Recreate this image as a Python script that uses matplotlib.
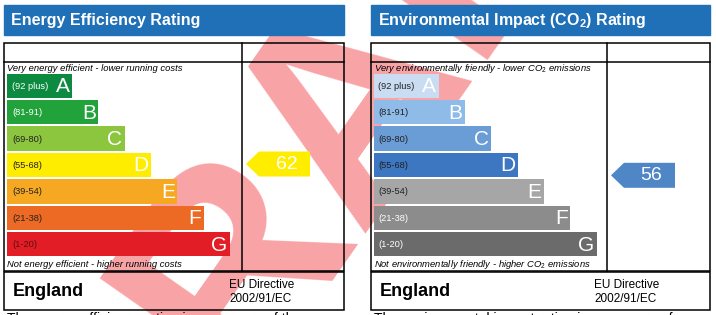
import matplotlib
matplotlib.use('Agg')
import matplotlib.pyplot as plt
from matplotlib.patches import Rectangle, Polygon

plt.rcParams['font.family'] = ['Liberation Sans', 'DejaVu Sans']
plt.rcParams['mathtext.fontset'] = 'custom'
plt.rcParams['mathtext.rm'] = 'Liberation Sans'
plt.rcParams['mathtext.it'] = 'Liberation Sans:italic'
plt.rcParams['mathtext.bf'] = 'Liberation Sans:bold'

# Dados
bands = ['A', 'B', 'C', 'D', 'E', 'F', 'G']
ranges = ['(92 plus)', '(81-91)', '(69-80)', '(55-68)', '(39-54)', '(21-38)', '(1-20)']
range_lo = [92, 81, 69, 55, 39, 21, 1]
range_hi = [100, 91, 80, 68, 54, 38, 20]

ee_score = 62
ei_score = 56

ee_colors = ['#0c8a3f', '#21a23a', '#8cc63f', '#ffed00', '#f7a823', '#ec6a23', '#e31d25']
ei_colors = ['#c9dcf1', '#8fbbe8', '#6a9dd6', '#3d77c2', '#a6a6a6', '#8c8c8c', '#6b6b6b']
ee_label_colors = ['white', 'white', '#222', '#222', '#222', '#222', '#5a1010']
ei_label_colors = ['#222', '#222', '#222', '#222', '#222', 'white', 'white']

ee_title = 'Energy Efficiency Rating'
ei_title = r'Environmental Impact (CO$_\mathbf{2}$) Rating'
ee_top = 'Very energy efficient - lower running costs'
ee_bottom = 'Not energy efficient - higher running costs'
ei_top = r'Very environmentally friendly - lower CO$_2$ emissions'
ei_bottom = r'Not environmentally friendly - higher CO$_2$ emissions'
ee_foot = 'The energy efficiency rating is a measure of the'
ei_foot = 'The environmental impact rating is a measure of a'

W, H = 716, 315
fig = plt.figure(figsize=(W / 100, H / 100), dpi=100)
ax = fig.add_axes([0, 0, 1, 1])
ax.set_xlim(0, W)
ax.set_ylim(H, 0)
ax.axis('off')

BLUE = '#1f70b7'
row_top = 73.5
row_pitch = 26.4
bar_h = 24.5


def panel(x0, x1, xdiv, title, colors, lab_cols, score, arrow_col, top_txt, bot_txt, foot):
    # cabeçalho azul
    ax.add_patch(Rectangle((x0, 5), x1 - x0, 30, color=BLUE, zorder=2))
    ax.text(x0 + 7, 21, title, color='white', fontsize=11.5, fontweight='bold',
            va='center', ha='left', zorder=3)
    # caixas
    lw = 1.1
    ax.add_patch(Rectangle((x0, 43), x1 - x0, 227.5, fill=False, lw=lw, ec='black', zorder=5))
    ax.plot([x0, x1], [62, 62], color='black', lw=lw, zorder=5)
    ax.plot([xdiv, xdiv], [43, 270.5], color='black', lw=lw, zorder=5)
    ax.add_patch(Rectangle((x0, 272), x1 - x0, 38, fill=False, lw=lw, ec='black', zorder=5))
    # barras
    lengths = [65 + 26.35 * i for i in range(len(bands))]
    ys = [row_top + row_pitch * i + bar_h / 2 for i in range(len(bands))]
    ax.barh(ys, lengths, left=x0 + 3, height=bar_h, color=colors, zorder=2)
    for i, b in enumerate(bands):
        ax.text(x0 + 8, ys[i] + 0.5, ranges[i], color=lab_cols[i], fontsize=6.7,
                va='center', ha='left', zorder=4)
        ax.text(x0 + 3 + lengths[i] - 2.5, ys[i] + 1, b, color='white', fontsize=15,
                va='center', ha='right', zorder=4)
    ax.text(x0 + 3, 68.5, top_txt, fontsize=6.75, style='italic', va='center', zorder=4)
    ax.text(x0 + 3, 264.5, bot_txt, fontsize=6.75, style='italic', va='center', zorder=4)
    # seta da pontuação
    k = next(i for i in range(len(bands)) if range_lo[i] <= score <= range_hi[i])
    frac = (range_hi[k] - score) / (range_hi[k] - range_lo[k])
    yc = row_top + row_pitch * k + frac * bar_h
    tip = xdiv + 4
    xe = tip + 64
    pts = [(tip, yc), (tip + 13, yc - 12.5), (xe, yc - 12.5), (xe, yc + 12.5), (tip + 13, yc + 12.5)]
    ax.add_patch(Polygon(pts, closed=True, color=arrow_col, lw=0, zorder=2))
    ax.text((tip + 13 + xe) / 2 + 2, yc + 0.5, str(score), color='white', fontsize=14,
            va='center', ha='center', zorder=4)
    # rodapé
    ax.text(x0 + 9, 292, 'England', fontsize=13, fontweight='bold', va='center', zorder=4)
    ax.text(xdiv - 13, 285, 'EU Directive', fontsize=8.5, va='center', zorder=4)
    ax.text(xdiv - 13, 298.5, '2002/91/EC', fontsize=8.5, va='center', zorder=4)
    ax.text(x0 + 3, 312, foot, fontsize=10, va='top', zorder=4)


# marca d'água
ax.text(335, 125, 'DRAFT', fontsize=200, fontweight='bold', color='#f8a3a6', rotation=55,
        ha='center', va='center', zorder=1)

panel(4, 343.5, 242, ee_title, ee_colors, ee_label_colors, ee_score, ee_colors[3],
      ee_top, ee_bottom, ee_foot)
panel(370.5, 709.5, 607, ei_title, ei_colors, ei_label_colors, ei_score, '#4f86c6',
      ei_top, ei_bottom, ei_foot)

plt.savefig('out.png', dpi=100)
